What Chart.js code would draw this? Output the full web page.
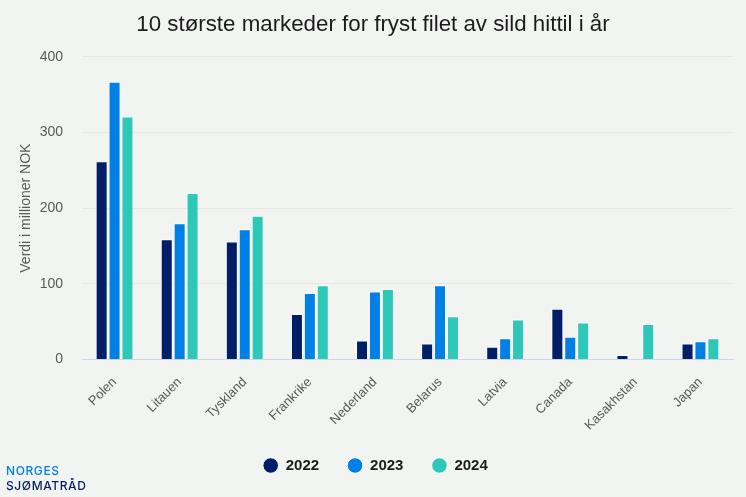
<!DOCTYPE html>
<html>
<head>
<meta charset="utf-8">
<script src="https://cdn.jsdelivr.net/npm/chart.js@4"></script>
<style>
  body { margin: 0; background: #f2f4f2; }
  #wrap { position: relative; width: 746px; height: 497px; }
  #logo { position: absolute; left: 6px; top: 464px; font-family: Inter, sans-serif; font-size: 12px; line-height: 14.5px; font-weight: 500; letter-spacing: 0.6px; }
  #logo .a { color: #0080e0; }
  #logo .b { color: #001e62; }
</style>
</head>
<body>
<div id="wrap">
  <canvas id="chart" width="746" height="497"></canvas>
  <div id="logo"><div class="a">NORGES</div><div class="b">SJØMATRÅD</div></div>
</div>
<script>
// data
var categories = ["Polen", "Litauen", "Tyskland", "Frankrike", "Nederland", "Belarus", "Latvia", "Canada", "Kasakhstan", "Japan"];
var values2022 = [262, 159, 156, 60, 25, 21, 17, 67, 6, 21];
var values2023 = [367, 180, 172, 88, 90, 98, 28, 30, null, 24];
var values2024 = [321, 220, 190, 98, 93, 57, 53, 49, 47, 28];

var fontName = "'Liberation Sans', Arial, sans-serif";
var greyText = "#595959";

function makeSeries(label, data, color) {
    return {
        label: label,
        data: data,
        backgroundColor: color,
        borderColor: "#ffffff",
        borderWidth: 1,
        categoryPercentage: 0.595,
        barPercentage: 0.93
    };
}

// legend sits a little right of centre in the original
var nudgeLegend = {
    id: 'nudgeLegend',
    afterLayout: function (chart) { chart.legend.left += 5; }
};

var ctx = document.getElementById('chart').getContext('2d');
var chart = new Chart(ctx, {
    type: 'bar',
    plugins: [nudgeLegend],
    data: {
        labels: categories,
        datasets: [
            makeSeries("2022", values2022, "#001f66"),
            makeSeries("2023", values2023, "#0080e6"),
            makeSeries("2024", values2024, "#2dc8b8")
        ]
    },
    options: {
        responsive: false,
        animation: false,
        layout: { padding: { left: 13, right: 13, top: 11, bottom: 14 } },
        plugins: {
            tooltip: { enabled: false },
            title: {
                display: true,
                text: "10 største markeder for fryst filet av sild hittil i år",
                color: "#1c1c1c",
                font: { family: fontName, size: 22.3, weight: 'normal' },
                padding: { top: 0, bottom: 19 }
            },
            legend: {
                position: 'bottom',
                labels: {
                    usePointStyle: true,
                    pointStyle: 'circle',
                    boxHeight: 11,
                    boxWidth: 18,
                    padding: 28.5,
                    color: "#1c1c1c",
                    font: { family: fontName, size: 15, weight: 'bold' }
                }
            }
        },
        scales: {
            x: {
                afterFit: function (scale) { scale.height = 70; },
                grid: { display: false },
                border: { color: "#ccd6eb", width: 1 },
                ticks: {
                    color: greyText,
                    font: { family: fontName, size: 13 },
                    minRotation: 45,
                    maxRotation: 45,
                    padding: 7,
                    autoSkip: false
                }
            },
            y: {
                min: 0,
                max: 400,
                afterFit: function (scale) { scale.width = 69; },
                grid: { color: "#e6e6e6", drawTicks: false },
                border: { display: false },
                ticks: {
                    stepSize: 100,
                    color: greyText,
                    font: { family: fontName, size: 14 },
                    padding: 19
                },
                title: {
                    display: true,
                    text: "Verdi i millioner NOK",
                    color: greyText,
                    font: { family: fontName, size: 14 },
                    padding: { top: 5, bottom: 0 }
                }
            }
        }
    }
});
</script>
</body>
</html>
